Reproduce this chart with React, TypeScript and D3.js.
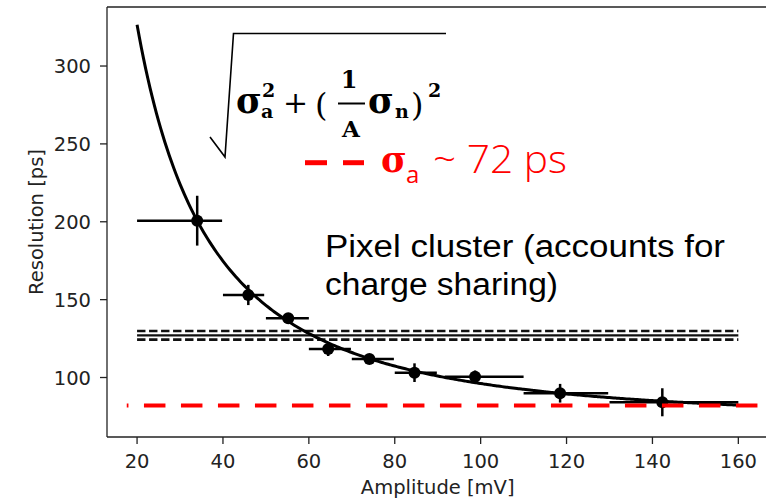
import React from "react";
import * as d3 from "d3";

// Measured timing resolution per amplitude bin
const amplitude = [34.0, 45.9, 55.2, 64.5, 74.1, 84.6, 98.7, 118.5, 142.3];
const resolution = [200.7, 153.0, 138.0, 118.3, 111.9, 103.1, 100.5, 89.9, 84.1];
const binLow = [20, 40, 50, 60, 70, 80, 91.7, 110, 130];
const binHigh = [39.8, 49.6, 60, 69.8, 79.8, 89.8, 110, 129.7, 160];
const resolutionErr = [16, 6.5, 3, 4.5, 3, 6, 4, 6, 9];

// Fit parameters: sqrt(sigma_a^2 + (sigma_n / A)^2)
const sigmaA = 72;
const sigmaN = 6370;
const fitRange = [20, 160];

// Pixel-cluster resolution band
const clusterMean = 127;
const clusterLow = 124.3;
const clusterHigh = 129.9;
const clusterRange = [20, 160];

// Red reference level
const redLevel = 82;
const redStart = 17.6;

const xTicks = [20, 40, 60, 80, 100, 120, 140, 160];
const yTicks = [100, 150, 200, 250, 300];

const W = 766;
const H = 499;
const left = 107;
const right = 768.4;
const top = 7;
const bottom = 437;

export default function App() {
  const x = d3.scaleLinear().domain([13, 167]).range([left, right]);
  const y = d3.scaleLinear().domain([61.8, 337.9]).range([bottom, top]);

  const fitPts: [number, number][] = d3
    .range(fitRange[0], fitRange[1] + 0.01, 0.5)
    .map((a) => [a, Math.sqrt(sigmaA * sigmaA + (sigmaN / a) * (sigmaN / a))]);
  const line = d3
    .line<[number, number]>()
    .x((d) => x(d[0]))
    .y((d) => y(d[1]))
    .curve(d3.curveMonotoneX);

  const tickFont = { fontFamily: "DejaVu Sans", fontSize: 19.5, fill: "#222" };
  const handFont = "'Open Sans', 'Noto Sans', sans-serif";
  const noteFont = "'Liberation Sans', 'Open Sans', sans-serif";
  const mathFont = "'DejaVu Serif', 'Liberation Serif', serif";

  return (
    <svg
      width={W}
      height={H}
      viewBox={`0 0 ${W} ${H}`}
      style={{ position: "absolute", left: 0, top: 0, background: "#fff" }}
    >
      <defs>
        <clipPath id="plotArea">
          <rect x={left} y={top} width={right - left} height={bottom - top} />
        </clipPath>
      </defs>

      <g clipPath="url(#plotArea)">
        {/* pixel cluster band */}
        {[clusterLow, clusterHigh].map((v, i) => (
          <line
            key={"cb" + i}
            x1={x(clusterRange[0])}
            x2={x(clusterRange[1])}
            y1={y(v)}
            y2={y(v)}
            stroke="#111"
            strokeWidth={2.6}
            strokeDasharray="8.4,3.6"
          />
        ))}
        <line
          x1={x(clusterRange[0])}
          x2={x(clusterRange[1])}
          y1={y(clusterMean)}
          y2={y(clusterMean)}
          stroke="#111"
          strokeWidth={2.2}
        />

        {/* fit curve */}
        <path d={line(fitPts) || ""} fill="none" stroke="#000" strokeWidth={3} />

        {/* error bars and markers */}
        {amplitude.map((a, i) => (
          <g key={"pt" + i}>
            <line
              x1={x(binLow[i])}
              x2={x(binHigh[i])}
              y1={y(resolution[i])}
              y2={y(resolution[i])}
              stroke="#000"
              strokeWidth={2.5}
            />
            <line
              x1={x(a)}
              x2={x(a)}
              y1={y(resolution[i] - resolutionErr[i])}
              y2={y(resolution[i] + resolutionErr[i])}
              stroke="#000"
              strokeWidth={2.5}
            />
            <circle cx={x(a)} cy={y(resolution[i])} r={6} fill="#000" />
          </g>
        ))}

        {/* red reference level */}
        <line
          x1={x(redStart)}
          x2={W}
          y1={y(redLevel)}
          y2={y(redLevel)}
          stroke="#ff0000"
          strokeWidth={4}
          strokeDasharray="21.5,15.5"
          strokeDashoffset={19.8}
        />
      </g>

      {/* spines */}
      <line x1={left} x2={left} y1={top} y2={bottom} stroke="#222" strokeWidth={1.3} />
      <line x1={left} x2={W} y1={bottom} y2={bottom} stroke="#222" strokeWidth={1.3} />
      <line x1={left} x2={W} y1={top} y2={top} stroke="#222" strokeWidth={1.3} />

      {/* x axis */}
      {xTicks.map((t) => (
        <g key={"xt" + t}>
          <line x1={x(t)} x2={x(t)} y1={bottom} y2={bottom + 7} stroke="#222" strokeWidth={1.3} />
          <text x={x(t)} y={467.5} textAnchor="middle" {...tickFont}>
            {t}
          </text>
        </g>
      ))}
      <text x={(left + right) / 2} y={494} textAnchor="middle" {...tickFont}>
        Amplitude [mV]
      </text>

      {/* y axis */}
      {yTicks.map((t) => (
        <g key={"yt" + t}>
          <line x1={left - 7} x2={left} y1={y(t)} y2={y(t)} stroke="#222" strokeWidth={1.3} />
          <text x={91} y={y(t) + 7} textAnchor="end" {...tickFont}>
            {t}
          </text>
        </g>
      ))}
      <text
        transform={`translate(43,${(top + bottom) / 2}) rotate(-90)`}
        textAnchor="middle"
        {...tickFont}
      >
        Resolution [ps]
      </text>

      {/* fit formula */}
      <path
        d="M210,137 L225,157 L233.5,33.5 L446,33.5"
        fill="none"
        stroke="#000"
        strokeWidth={1.6}
      />
      <g fontFamily={mathFont} fontWeight="bold" fill="#000">
        <text x={236} y={113} fontSize={35}>σ</text>
        <text x={261} y={118} fontSize={19}>a</text>
        <text x={262} y={97} fontSize={19}>2</text>
        <text x={283} y={113} fontSize={30} fontWeight="normal">+</text>
        <text x={315} y={116} fontSize={32} fontWeight="normal">(</text>
        <text x={349} y={88} fontSize={24} textAnchor="middle">1</text>
        <line x1={338} x2={365} y1={103.5} y2={103.5} stroke="#000" strokeWidth={2} />
        <text x={351} y={137} fontSize={23} textAnchor="middle">A</text>
        <text x={368} y={113} fontSize={35}>σ</text>
        <text x={395} y={118} fontSize={19}>n</text>
        <text x={411} y={116} fontSize={32} fontWeight="normal">)</text>
        <text x={428} y={97} fontSize={19}>2</text>
      </g>

      {/* red legend */}
      <line x1={305} x2={327} y1={162.7} y2={162.7} stroke="#ff0000" strokeWidth={5} />
      <line x1={343} x2={364} y1={162.7} y2={162.7} stroke="#ff0000" strokeWidth={5} />
      <text x={381} y={172} fontSize={35} fontFamily={mathFont} fontWeight="bold" fill="#ff0000">
        σ
      </text>
      <text x={406} y={183} fontSize={24} fontFamily={handFont} fill="#ff0000">
        a
      </text>
      <text
        x={433}
        y={172.7}
        fontSize={39}
        fontFamily={handFont}
        fontWeight={300}
        fill="#ff0000"
        textLength={134}
        lengthAdjust="spacingAndGlyphs"
      >
        ~ 72 ps
      </text>

      {/* cluster annotation */}
      <g fontFamily={noteFont} fontSize={31} fill="#000">
        <text x={325} y={257} textLength={400} lengthAdjust="spacingAndGlyphs">
          Pixel cluster (accounts for
        </text>
        <text x={325} y={295} textLength={233} lengthAdjust="spacingAndGlyphs">
          charge sharing)
        </text>
      </g>
    </svg>
  );
}
